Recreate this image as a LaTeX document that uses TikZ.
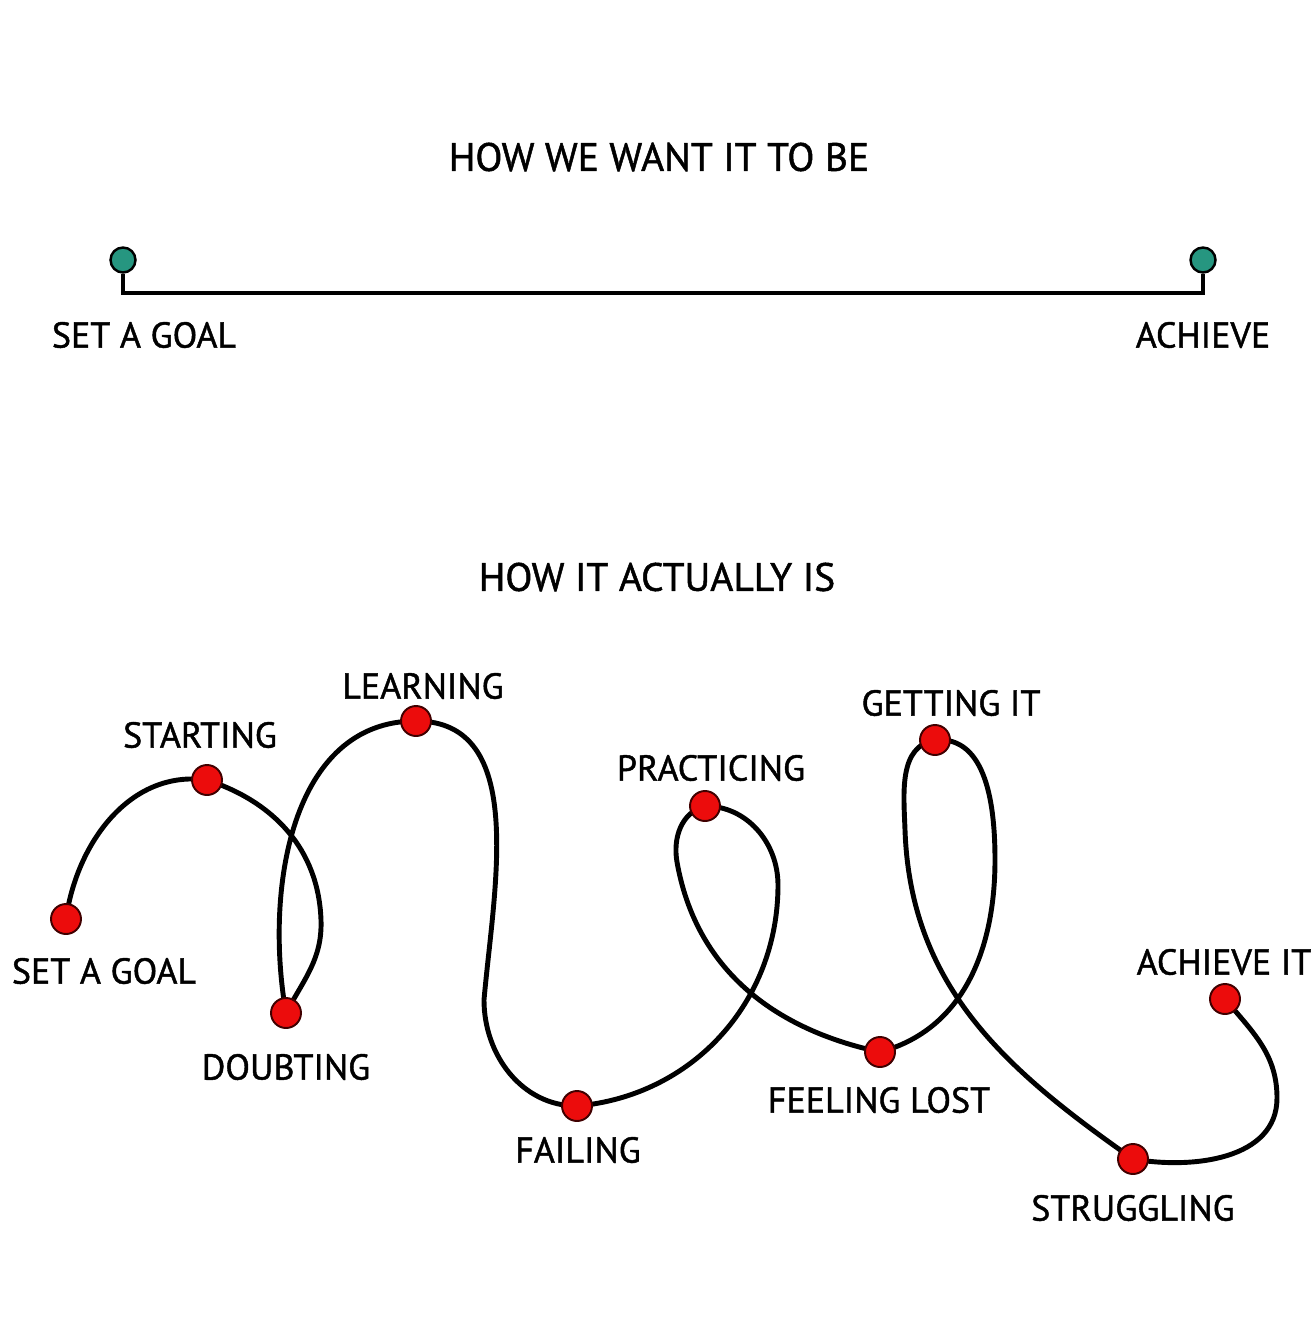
\documentclass[tikz,border=0pt]{standalone}
\usepackage{fontspec}
\newfontfamily\handfont{PT Sans}[FakeBold=1.2]
\usepackage{xcolor}
\usepackage{tikz}
\usetikzlibrary{positioning}

\definecolor{pinteal}{RGB}{38,150,128}
\definecolor{dotred}{RGB}{236,12,12}

\begin{document}
\begin{tikzpicture}[
  x=0.02cm, y=0.02cm,
  road/.style={line width=2.8pt, line cap=round},
  pin/.style={circle, draw=black, line width=1.4pt, fill=pinteal,
    minimum size=0.5cm, inner sep=0pt},
  dot/.style={circle, draw=black!75!red, line width=1.1pt, fill=dotred,
    minimum size=0.6cm, inner sep=0pt},
  lbl/.style={font=\handfont\fontsize{20.5}{23}\selectfont, inner sep=0pt},
  heading/.style={font=\handfont\fontsize{22.5}{26}\selectfont, inner sep=0pt},
]
  \useasboundingbox (0,0) rectangle (1314,-1339);

  % the wish
  \node[heading] (want) at (659,-157) {HOW WE WANT IT TO BE};
  \node[pin] (p1) at (123,-260) {};
  \node[pin] (p2) at (1203,-260) {};
  \draw[road, line cap=butt] (p1) -- (p1 |- 0,-293) -- (p2 |- 0,-293) -- (p2);
  \node[lbl] (goal0) at (144,-335) {SET A GOAL};
  \node[lbl] (ach0) at (1203,-335) {ACHIEVE};

  % the reality
  \node[heading] (real) at (657,-577) {HOW IT ACTUALLY IS};

  \coordinate (goal) at (66,-919);
  \coordinate (start) at (207,-780);
  \coordinate (doubt) at (286,-1013);
  \coordinate (learn) at (416,-721);
  \coordinate (fail) at (577,-1106);
  \coordinate (prac) at (705,-806);
  \coordinate (lost) at (880,-1052);
  \coordinate (get) at (935,-740);
  \coordinate (strug) at (1133,-1159);
  \coordinate (ach) at (1225,-999);
  % turning points
  \coordinate (w0) at (321,-920);
  \coordinate (w1) at (484,-1000);
  \coordinate (w2) at (778,-885);
  \coordinate (w3) at (677,-862);
  \coordinate (w4) at (995,-860);
  \coordinate (w5) at (905,-830);
  \coordinate (w6) at (1277,-1098);

  \draw[road] (goal) to[out=82,in=172] (start)
    to[out=-18,in=92] (w0)
    to[out=-88,in=62] (doubt)
    to[out=100,in=180] (learn)
    to[out=0,in=85] (w1)
    to[out=-90,in=180] (fail)
    to[out=5,in=-90] (w2)
    to[out=90,in=0] (prac)
    to[out=195,in=100] (w3)
    to[out=-80,in=168] (lost)
    to[out=15,in=-90] (w4)
    to[out=90,in=5] (get)
    to[out=190,in=92] (w5)
    to[out=-88,in=145] (strug)
    to[out=-10,in=-90] (w6)
    to[out=90,in=-50] (ach);

  \foreach \p in {goal,start,doubt,learn,fail,prac,lost,get,strug,ach}
    \node[dot] (d-\p) at (\p) {};

  \node[lbl] at (104,-971) {SET A GOAL};
  \node[lbl] at (200,-735) {STARTING};
  \node[lbl] at (286,-1067) {DOUBTING};
  \node[lbl] at (423,-686) {LEARNING};
  \node[lbl] at (578,-1150) {FAILING};
  \node[lbl] at (711,-768) {PRACTICING};
  \node[lbl] at (879,-1100) {FEELING LOST};
  \node[lbl] at (951,-703) {GETTING IT};
  \node[lbl] at (1133,-1208) {STRUGGLING};
  \node[lbl] at (1224,-962) {ACHIEVE IT};
\end{tikzpicture}
\end{document}
